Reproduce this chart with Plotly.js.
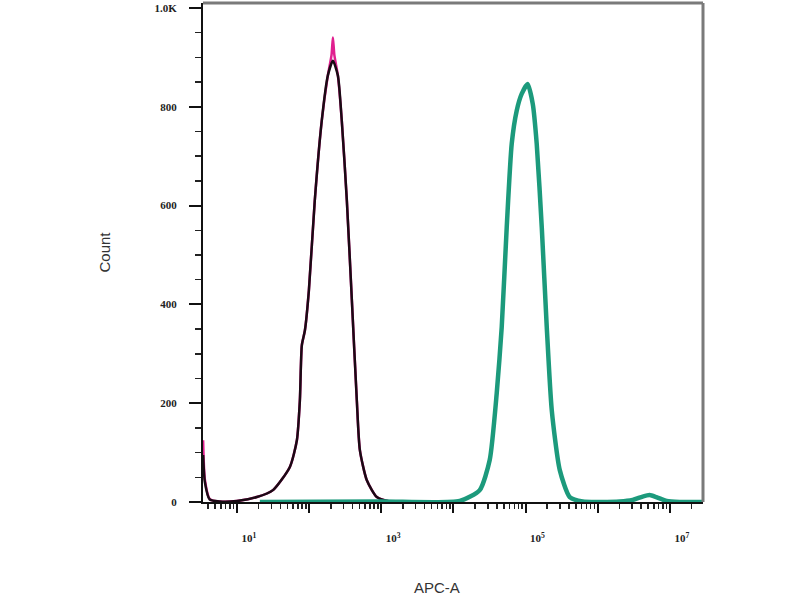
<!DOCTYPE html>
<html>
<head>
<meta charset="utf-8">
<script src="https://cdn.plot.ly/plotly-3.0.1.min.js"></script>
<style>html,body{margin:0;padding:0;background:#fff;}#chart{width:800px;height:600px;}</style>
</head>
<body>
<div id="chart"></div>
<script>
// Unstained / control (black) histogram
const blackX = [3.4, 3.6, 4.2, 5.8, 10, 18.9, 31.6, 54.2, 67.8, 74.6, 79.4, 87.5, 99.4, 120, 150, 182, 214, 251, 284, 334, 392, 459, 506, 632, 869, 1315, 1811];
const blackY = [95, 40, 5, 1, 2, 10, 24, 71, 125, 206, 317, 347, 428, 610, 772, 863, 893, 863, 772, 610, 408, 206, 105, 44, 10, 1, 0];
// Isotype (magenta) histogram, nearly identical
const magentaX = [3.4, 3.6, 4.2, 5.8, 10, 18.9, 31.6, 54.2, 67.8, 74.6, 79.4, 87.5, 99.4, 120, 150, 182, 205, 214, 224, 251, 284, 334, 392, 459, 506, 632, 869, 1315, 1811];
const magentaY = [125, 45, 6, 1, 2, 10, 24, 71, 125, 206, 317, 347, 428, 610, 772, 863, 905, 940, 905, 863, 772, 610, 408, 206, 105, 44, 10, 1, 0];
// Stained sample (teal) histogram
const tealX = [20.8, 1000, 12270, 23200, 31900, 39900, 46800, 54900, 64400, 75500, 88500, 107000, 126000, 143000, 168000, 197000, 231000, 298000, 410000, 620000, 2020000, 3050000, 4200000, 5250000, 6500000, 9040000, 13700000, 28400000];
const tealY = [0, 1, 2, 24, 85, 220, 354, 556, 725, 792, 826, 846, 806, 725, 556, 354, 186, 65, 10, 1, 1, 4, 11, 14, 10, 2, 0, 0];

const xTickVals = [10, 100, 1000, 10000, 100000, 1000000, 10000000];
const xTickText = ['10<sup>1</sup>', '', '10<sup>3</sup>', '', '10<sup>5</sup>', '', '10<sup>7</sup>'];
const yTickVals = [0, 200, 400, 600, 800, 1000];
const yTickText = ['0', '200', '400', '600', '800', '1.0K'];
const xTitle = 'APC-A';
const yTitle = 'Count';

const traces = [
  {x: magentaX, y: magentaY, type: 'scatter', mode: 'lines', line: {color: '#e0208f', width: 2.5, shape: 'spline', smoothing: 0.6}, hoverinfo: 'skip'},
  {x: blackX, y: blackY, type: 'scatter', mode: 'lines', line: {color: '#1a0a14', width: 2.5, shape: 'spline', smoothing: 0.6}, hoverinfo: 'skip'},
  {x: tealX, y: tealY, type: 'scatter', mode: 'lines', line: {color: '#1c9a7c', width: 4.5, shape: 'spline', smoothing: 0.6}, hoverinfo: 'skip'}
];

const tickFont = {family: 'Liberation Serif, serif', size: 11, color: '#222', weight: 'bold'};

const layout = {
  width: 800, height: 600,
  margin: {l: 203, r: 97, t: 3, b: 98},
  paper_bgcolor: '#fff', plot_bgcolor: '#fff',
  showlegend: false,
  xaxis: {
    type: 'log', range: [0.53, 7.46],
    tickmode: 'array', tickvals: xTickVals, ticktext: xTickText,
    ticks: 'outside', ticklen: 9, tickwidth: 2, tickcolor: '#111',
    ticklabelshift: 12, ticklabelstandoff: 16,
    minor: {ticks: 'outside', ticklen: 5, tickwidth: 1.5, tickcolor: '#222', dtick: 'D1', showgrid: false},
    showline: true, linewidth: 2, linecolor: '#111',
    showgrid: false, zeroline: false,
    tickfont: tickFont
  },
  yaxis: {
    range: [0, 1010],
    tickmode: 'array', tickvals: yTickVals, ticktext: yTickText,
    ticks: 'outside', ticklen: 12, tickwidth: 2, tickcolor: '#111',
    ticklabelstandoff: 10,
    minor: {ticks: 'outside', ticklen: 6, tickwidth: 1.5, tickcolor: '#222', dtick: 50, showgrid: false},
    showline: true, linewidth: 2, linecolor: '#111',
    showgrid: false, zeroline: false,
    tickfont: tickFont,
    title: {text: yTitle, font: {family: 'Liberation Sans, Arial, sans-serif', size: 15, color: '#333'}, standoff: 40}
  },
  annotations: [
    {text: xTitle, xref: 'paper', yref: 'paper', x: 0.468, y: -0.172, xanchor: 'center', yanchor: 'middle', showarrow: false,
     font: {family: 'Liberation Sans, Arial, sans-serif', size: 15, color: '#333'}}
  ],
  shapes: [
    {type: 'line', xref: 'paper', yref: 'paper', x0: 0, x1: 1, y0: 1, y1: 1, line: {color: '#7a7a7a', width: 3}},
    {type: 'line', xref: 'paper', yref: 'paper', x0: 1, x1: 1, y0: 0, y1: 1, line: {color: '#7a7a7a', width: 3}}
  ]
};

Plotly.newPlot('chart', traces, layout, {displayModeBar: false, staticPlot: true});
</script>
</body>
</html>
